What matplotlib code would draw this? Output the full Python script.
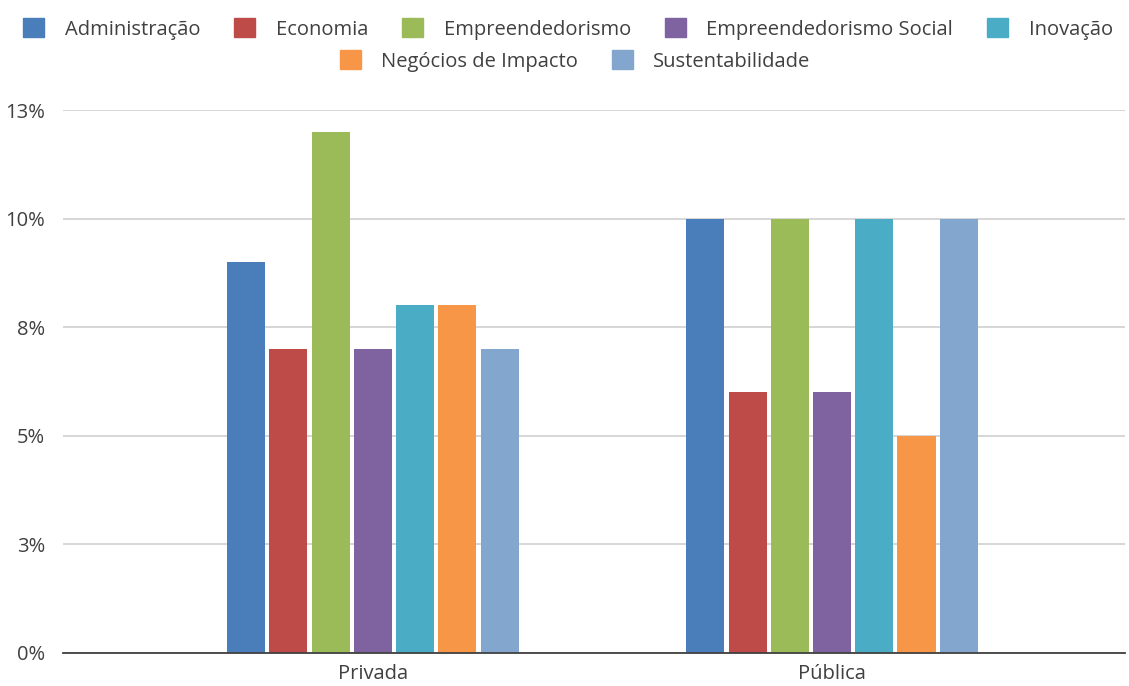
import numpy as np
import matplotlib.pyplot as plt
from matplotlib.patches import Patch

# Data (percent of institutions per theme)
groups = ['Privada', 'Pública']
series = ['Administração', 'Economia', 'Empreendedorismo', 'Empreendedorismo Social',
          'Inovação', 'Negócios de Impacto', 'Sustentabilidade']
privada = [9, 7, 12, 7, 8, 8, 7]
publica = [10, 6, 10, 6, 10, 5, 10]
yticks = [0, 2.5, 5, 7.5, 10, 12.5]
ytick_labels = ['0%', '3%', '5%', '8%', '10%', '13%']

colors = ['#4a7ebb', '#be4b48', '#9bbb59', '#7f63a1', '#4bacc6', '#f79646', '#83a6cf']

plt.rcParams['font.family'] = ['Open Sans', 'DejaVu Sans']
txt = '#404040'

fig = plt.figure(figsize=(11.29, 6.86), dpi=100)
ax = fig.add_axes([63 / 1129, 1 - 653 / 686, (1125 - 63) / 1129, (653 - 110) / 686])

x = np.arange(len(groups))
step = 0.092
width = 0.083
values = np.array([privada, publica])
for i, name in enumerate(series):
    ax.bar(x + (i - 3) * step, values[:, i], width, color=colors[i], label=name, zorder=3)

ax.set_xlim(-0.675, 1.638)
ax.set_ylim(0, 12.5)
ax.set_yticks(yticks)
ax.set_yticklabels(ytick_labels)
ax.set_xticks(x)
ax.set_xticklabels(groups)
ax.tick_params(axis='both', length=0, labelsize=14.5, colors=txt)
ax.tick_params(axis='y', pad=13)
ax.tick_params(axis='x', pad=8)
ax.grid(axis='y', color='#d0d0d0', linewidth=1.2, zorder=0)
for s in ['top', 'right', 'left']:
    ax.spines[s].set_visible(False)
ax.spines['bottom'].set_color('#404040')
ax.spines['bottom'].set_linewidth(1.3)
ax.spines['bottom'].set_zorder(4)

handles = [Patch(facecolor=c, edgecolor=c) for c in colors]
leg_kw = dict(frameon=False, fontsize=14.5, handlelength=1.05, handleheight=1.05,
              handletextpad=1.0, columnspacing=1.7, labelcolor=txt, loc='center')
fig.legend(handles[:5], series[:5], ncol=5, bbox_to_anchor=(568 / 1129, 1 - 29 / 686), **leg_kw)
fig.legend(handles[5:], series[5:], ncol=2, bbox_to_anchor=(575 / 1129, 1 - 61 / 686), **leg_kw)

fig.savefig('out.png', dpi=100)
